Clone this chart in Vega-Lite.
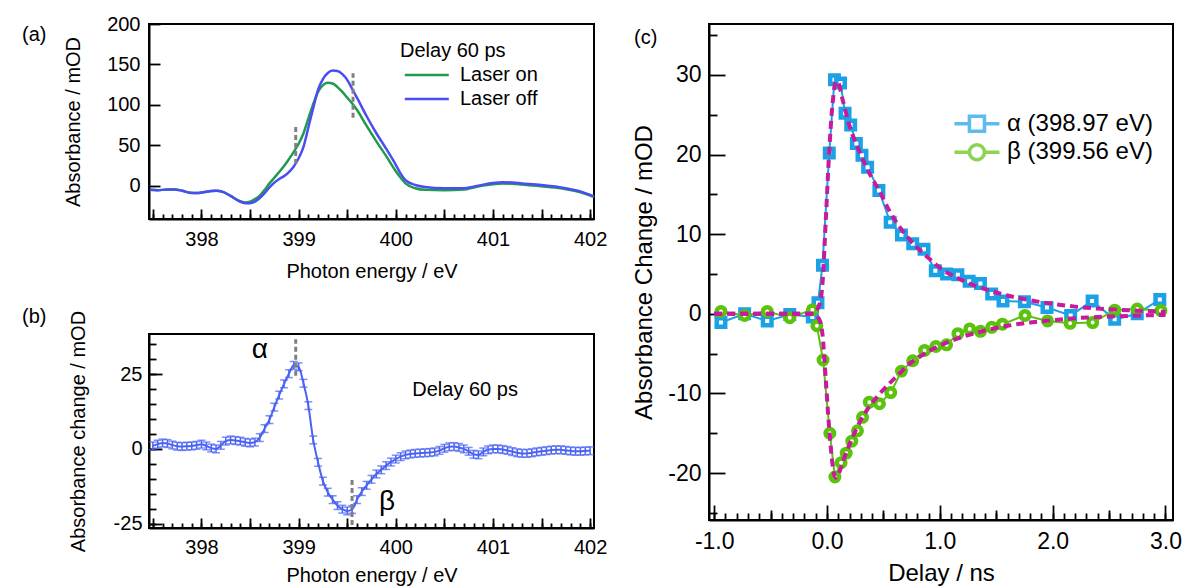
{
  "$schema": "https://vega.github.io/schema/vega-lite/v6.json",
  "autosize": {"type": "pad"},
  "padding": {"left": 21, "top": 13, "right": 0, "bottom": 0},
  "background": "white",
  "spacing": 560,
  "bounds": "flush",
  "resolve": {"scale": {"color": "independent", "stroke": "independent", "shape": "independent"}},
  "datasets": {
    "adata": [
      {"E":397.47,"A":-5,"s":"Laser on"},{"E":397.55,"A":-5.5,"s":"Laser on"},{"E":397.65,"A":-4.5,"s":"Laser on"},{"E":397.72,"A":-4.5,"s":"Laser on"},{"E":397.8,"A":-6,"s":"Laser on"},{"E":397.88,"A":-8.5,"s":"Laser on"},{"E":397.95,"A":-9,"s":"Laser on"},{"E":398.02,"A":-8,"s":"Laser on"},{"E":398.1,"A":-6.5,"s":"Laser on"},{"E":398.15,"A":-6,"s":"Laser on"},{"E":398.22,"A":-7.5,"s":"Laser on"},{"E":398.3,"A":-12.5,"s":"Laser on"},
      {"E":398.38,"A":-18,"s":"Laser on"},{"E":398.45,"A":-20.5,"s":"Laser on"},{"E":398.5,"A":-19.5,"s":"Laser on"},{"E":398.55,"A":-16.5,"s":"Laser on"},{"E":398.6,"A":-12,"s":"Laser on"},{"E":398.65,"A":-5,"s":"Laser on"},{"E":398.7,"A":3,"s":"Laser on"},{"E":398.75,"A":10,"s":"Laser on"},{"E":398.8,"A":17,"s":"Laser on"},{"E":398.85,"A":24.5,"s":"Laser on"},{"E":398.9,"A":33,"s":"Laser on"},{"E":398.95,"A":42,"s":"Laser on"},{"E":399.0,"A":52,"s":"Laser on"},{"E":399.05,"A":65,"s":"Laser on"},{"E":399.1,"A":83,"s":"Laser on"},{"E":399.15,"A":101,"s":"Laser on"},{"E":399.2,"A":116,"s":"Laser on"},{"E":399.25,"A":124.5,"s":"Laser on"},{"E":399.3,"A":127.5,"s":"Laser on"},{"E":399.35,"A":126.5,"s":"Laser on"},{"E":399.4,"A":122,"s":"Laser on"},{"E":399.45,"A":116,"s":"Laser on"},{"E":399.5,"A":109,"s":"Laser on"},{"E":399.55,"A":102,"s":"Laser on"},{"E":399.6,"A":94,"s":"Laser on"},{"E":399.7,"A":74,"s":"Laser on"},{"E":399.8,"A":55,"s":"Laser on"},{"E":399.9,"A":37,"s":"Laser on"},{"E":400.0,"A":18,"s":"Laser on"},{"E":400.05,"A":10,"s":"Laser on"},{"E":400.1,"A":3,"s":"Laser on"},{"E":400.2,"A":-3,"s":"Laser on"},{"E":400.3,"A":-5,"s":"Laser on"},{"E":400.5,"A":-5.5,"s":"Laser on"},{"E":400.7,"A":-4.5,"s":"Laser on"},{"E":400.8,"A":-2,"s":"Laser on"},{"E":400.9,"A":0.5,"s":"Laser on"},{"E":401.0,"A":2,"s":"Laser on"},{"E":401.1,"A":3,"s":"Laser on"},{"E":401.2,"A":2.5,"s":"Laser on"},{"E":401.3,"A":1.5,"s":"Laser on"},{"E":401.5,"A":-0.5,"s":"Laser on"},{"E":401.7,"A":-3,"s":"Laser on"},{"E":401.85,"A":-6.5,"s":"Laser on"},{"E":401.95,"A":-10,"s":"Laser on"},{"E":402.04,"A":-14,"s":"Laser on"},
      {"E":397.47,"A":-5,"s":"Laser off"},{"E":397.55,"A":-5.5,"s":"Laser off"},{"E":397.65,"A":-4.5,"s":"Laser off"},{"E":397.72,"A":-4.5,"s":"Laser off"},{"E":397.8,"A":-6,"s":"Laser off"},{"E":397.88,"A":-8.5,"s":"Laser off"},{"E":397.95,"A":-9,"s":"Laser off"},{"E":398.02,"A":-8,"s":"Laser off"},{"E":398.1,"A":-6.5,"s":"Laser off"},{"E":398.15,"A":-6,"s":"Laser off"},{"E":398.22,"A":-7.5,"s":"Laser off"},{"E":398.3,"A":-12.5,"s":"Laser off"},
      {"E":398.38,"A":-18.5,"s":"Laser off"},{"E":398.45,"A":-21.5,"s":"Laser off"},{"E":398.5,"A":-21.5,"s":"Laser off"},{"E":398.55,"A":-19.5,"s":"Laser off"},{"E":398.6,"A":-15,"s":"Laser off"},{"E":398.65,"A":-9,"s":"Laser off"},{"E":398.7,"A":-2,"s":"Laser off"},{"E":398.75,"A":4,"s":"Laser off"},{"E":398.8,"A":8.5,"s":"Laser off"},{"E":398.85,"A":12,"s":"Laser off"},{"E":398.9,"A":17,"s":"Laser off"},{"E":398.95,"A":24,"s":"Laser off"},{"E":399.0,"A":34,"s":"Laser off"},{"E":399.05,"A":48,"s":"Laser off"},{"E":399.1,"A":72,"s":"Laser off"},{"E":399.15,"A":96,"s":"Laser off"},{"E":399.2,"A":119,"s":"Laser off"},{"E":399.25,"A":132,"s":"Laser off"},{"E":399.3,"A":139.5,"s":"Laser off"},{"E":399.35,"A":142.5,"s":"Laser off"},{"E":399.4,"A":142,"s":"Laser off"},{"E":399.45,"A":138,"s":"Laser off"},{"E":399.5,"A":131,"s":"Laser off"},{"E":399.55,"A":120,"s":"Laser off"},{"E":399.6,"A":109,"s":"Laser off"},{"E":399.7,"A":86,"s":"Laser off"},{"E":399.8,"A":65,"s":"Laser off"},{"E":399.9,"A":46,"s":"Laser off"},{"E":400.0,"A":26,"s":"Laser off"},{"E":400.05,"A":15,"s":"Laser off"},{"E":400.1,"A":7,"s":"Laser off"},{"E":400.2,"A":1,"s":"Laser off"},{"E":400.3,"A":-1.5,"s":"Laser off"},{"E":400.5,"A":-3,"s":"Laser off"},{"E":400.7,"A":-3,"s":"Laser off"},{"E":400.8,"A":-1,"s":"Laser off"},{"E":400.9,"A":1.5,"s":"Laser off"},{"E":401.0,"A":3.5,"s":"Laser off"},{"E":401.1,"A":4.5,"s":"Laser off"},{"E":401.2,"A":4,"s":"Laser off"},{"E":401.3,"A":3,"s":"Laser off"},{"E":401.5,"A":1,"s":"Laser off"},{"E":401.7,"A":-2,"s":"Laser off"},{"E":401.85,"A":-5.5,"s":"Laser off"},{"E":401.95,"A":-9,"s":"Laser off"},{"E":402.04,"A":-13,"s":"Laser off"}
    ],
    "bdata": [
      {"E":397.5,"d":1.0,"err":1.3},{"E":397.55,"d":1.6,"err":1.3},{"E":397.6,"d":2.0,"err":1.3},{"E":397.65,"d":1.8,"err":1.3},{"E":397.7,"d":1.3,"err":1.3},{"E":397.75,"d":0.9,"err":1.3},{"E":397.8,"d":0.8,"err":1.3},{"E":397.85,"d":0.9,"err":1.3},{"E":397.9,"d":1.0,"err":1.3},{"E":397.95,"d":1.2,"err":1.3},{"E":398.0,"d":1.6,"err":1.3},{"E":398.05,"d":1.0,"err":1.3},{"E":398.1,"d":0.3,"err":1.3},{"E":398.15,"d":0.0,"err":1.3},{"E":398.2,"d":1.2,"err":1.3},{"E":398.25,"d":2.6,"err":1.3},{"E":398.3,"d":3.0,"err":1.3},{"E":398.35,"d":2.8,"err":1.3},{"E":398.4,"d":2.6,"err":1.3},{"E":398.45,"d":2.2,"err":1.3},{"E":398.5,"d":2.0,"err":1.3},{"E":398.55,"d":2.3,"err":1.3},{"E":398.6,"d":3.8,"err":1.3},{"E":398.65,"d":6.8,"err":1.3},{"E":398.7,"d":9.8,"err":1.3},{"E":398.75,"d":14.0,"err":1.3},{"E":398.8,"d":18.0,"err":1.3},{"E":398.85,"d":21.8,"err":1.3},{"E":398.9,"d":25.2,"err":1.3},{"E":398.95,"d":28.0,"err":1.3},{"E":399.0,"d":27.5,"err":1.3},{"E":399.05,"d":22.0,"err":1.3},{"E":399.1,"d":14.5,"err":1.3},{"E":399.15,"d":3.0,"err":1.3},{"E":399.2,"d":-4.5,"err":1.3},{"E":399.25,"d":-10.8,"err":1.3},{"E":399.3,"d":-14.5,"err":1.3},{"E":399.35,"d":-17.0,"err":1.3},{"E":399.4,"d":-19.0,"err":1.3},{"E":399.45,"d":-20.2,"err":1.3},{"E":399.5,"d":-20.8,"err":1.3},{"E":399.55,"d":-20.3,"err":1.3},{"E":399.6,"d":-17.0,"err":1.3},{"E":399.65,"d":-14.3,"err":1.3},{"E":399.7,"d":-12.2,"err":1.3},{"E":399.75,"d":-10.2,"err":1.3},{"E":399.8,"d":-8.4,"err":1.3},{"E":399.85,"d":-7.0,"err":1.3},{"E":399.9,"d":-5.6,"err":1.3},{"E":399.95,"d":-4.4,"err":1.3},{"E":400.0,"d":-3.4,"err":1.3},{"E":400.05,"d":-2.6,"err":1.3},{"E":400.1,"d":-2.0,"err":1.3},{"E":400.15,"d":-1.7,"err":1.3},{"E":400.2,"d":-1.5,"err":1.3},{"E":400.25,"d":-1.4,"err":1.3},{"E":400.3,"d":-1.3,"err":1.3},{"E":400.35,"d":-1.2,"err":1.3},{"E":400.4,"d":-1.0,"err":1.3},{"E":400.45,"d":-0.5,"err":1.3},{"E":400.5,"d":0.2,"err":1.3},{"E":400.55,"d":0.7,"err":1.3},{"E":400.6,"d":0.8,"err":1.3},{"E":400.65,"d":0.5,"err":1.3},{"E":400.7,"d":0.0,"err":1.3},{"E":400.75,"d":-0.8,"err":1.3},{"E":400.8,"d":-1.8,"err":1.3},{"E":400.85,"d":-2.0,"err":1.3},{"E":400.9,"d":-1.0,"err":1.3},{"E":400.95,"d":-0.3,"err":1.3},{"E":401.0,"d":0.0,"err":1.3},{"E":401.05,"d":0.0,"err":1.3},{"E":401.1,"d":-0.2,"err":1.3},{"E":401.15,"d":-0.5,"err":1.3},{"E":401.2,"d":-0.9,"err":1.3},{"E":401.25,"d":-1.3,"err":1.3},{"E":401.3,"d":-1.5,"err":1.3},{"E":401.35,"d":-1.5,"err":1.3},{"E":401.4,"d":-1.3,"err":1.3},{"E":401.45,"d":-1.0,"err":1.3},{"E":401.5,"d":-0.8,"err":1.3},{"E":401.55,"d":-0.6,"err":1.3},{"E":401.6,"d":-0.4,"err":1.3},{"E":401.65,"d":-0.3,"err":1.3},{"E":401.7,"d":-0.3,"err":1.3},{"E":401.75,"d":-0.5,"err":1.3},{"E":401.8,"d":-0.7,"err":1.3},{"E":401.85,"d":-0.8,"err":1.3},{"E":401.9,"d":-0.8,"err":1.3},{"E":401.95,"d":-0.7,"err":1.3},{"E":402.0,"d":-0.6,"err":1.3}
    ],
    "cdata": [
      {"t":-0.94,"v":-1.1,"series":"α (398.97 eV)"},{"t":-0.73,"v":0,"series":"α (398.97 eV)"},{"t":-0.53,"v":-0.9,"series":"α (398.97 eV)"},{"t":-0.33,"v":-0.1,"series":"α (398.97 eV)"},{"t":-0.13,"v":-0.4,"series":"α (398.97 eV)"},{"t":-0.08,"v":1.4,"series":"α (398.97 eV)"},{"t":-0.04,"v":6.1,"series":"α (398.97 eV)"},{"t":0.02,"v":20.2,"series":"α (398.97 eV)"},{"t":0.066,"v":29.4,"series":"α (398.97 eV)"},{"t":0.12,"v":29.0,"series":"α (398.97 eV)"},{"t":0.16,"v":25.2,"series":"α (398.97 eV)"},{"t":0.21,"v":23.7,"series":"α (398.97 eV)"},{"t":0.26,"v":21.4,"series":"α (398.97 eV)"},{"t":0.31,"v":19.9,"series":"α (398.97 eV)"},{"t":0.36,"v":18.4,"series":"α (398.97 eV)"},{"t":0.46,"v":15.5,"series":"α (398.97 eV)"},{"t":0.56,"v":11.5,"series":"α (398.97 eV)"},{"t":0.66,"v":9.9,"series":"α (398.97 eV)"},{"t":0.76,"v":8.8,"series":"α (398.97 eV)"},{"t":0.86,"v":8.1,"series":"α (398.97 eV)"},{"t":0.96,"v":5.4,"series":"α (398.97 eV)"},{"t":1.06,"v":5.0,"series":"α (398.97 eV)"},{"t":1.16,"v":4.9,"series":"α (398.97 eV)"},{"t":1.26,"v":4.1,"series":"α (398.97 eV)"},{"t":1.36,"v":3.8,"series":"α (398.97 eV)"},{"t":1.46,"v":2.5,"series":"α (398.97 eV)"},{"t":1.56,"v":1.6,"series":"α (398.97 eV)"},{"t":1.75,"v":1.5,"series":"α (398.97 eV)"},{"t":1.95,"v":0.8,"series":"α (398.97 eV)"},{"t":2.16,"v":-0.2,"series":"α (398.97 eV)"},{"t":2.35,"v":1.6,"series":"α (398.97 eV)"},{"t":2.55,"v":-0.7,"series":"α (398.97 eV)"},{"t":2.75,"v":0.0,"series":"α (398.97 eV)"},{"t":2.95,"v":1.8,"series":"α (398.97 eV)"},
      {"t":-0.94,"v":0.3,"series":"β (399.56 eV)"},{"t":-0.73,"v":-0.2,"series":"β (399.56 eV)"},{"t":-0.53,"v":0.3,"series":"β (399.56 eV)"},{"t":-0.33,"v":-0.5,"series":"β (399.56 eV)"},{"t":-0.13,"v":0.5,"series":"β (399.56 eV)"},{"t":-0.09,"v":-1.5,"series":"β (399.56 eV)"},{"t":-0.035,"v":-5.8,"series":"β (399.56 eV)"},{"t":0.025,"v":-15.0,"series":"β (399.56 eV)"},{"t":0.07,"v":-20.5,"series":"β (399.56 eV)"},{"t":0.125,"v":-18.7,"series":"β (399.56 eV)"},{"t":0.17,"v":-17.5,"series":"β (399.56 eV)"},{"t":0.22,"v":-16.0,"series":"β (399.56 eV)"},{"t":0.27,"v":-14.7,"series":"β (399.56 eV)"},{"t":0.315,"v":-13.0,"series":"β (399.56 eV)"},{"t":0.375,"v":-11.1,"series":"β (399.56 eV)"},{"t":0.465,"v":-11.3,"series":"β (399.56 eV)"},{"t":0.565,"v":-9.9,"series":"β (399.56 eV)"},{"t":0.66,"v":-7.2,"series":"β (399.56 eV)"},{"t":0.76,"v":-5.9,"series":"β (399.56 eV)"},{"t":0.865,"v":-4.6,"series":"β (399.56 eV)"},{"t":0.965,"v":-4.1,"series":"β (399.56 eV)"},{"t":1.06,"v":-3.9,"series":"β (399.56 eV)"},{"t":1.16,"v":-2.5,"series":"β (399.56 eV)"},{"t":1.265,"v":-1.9,"series":"β (399.56 eV)"},{"t":1.36,"v":-2.2,"series":"β (399.56 eV)"},{"t":1.46,"v":-1.7,"series":"β (399.56 eV)"},{"t":1.555,"v":-1.3,"series":"β (399.56 eV)"},{"t":1.755,"v":-0.2,"series":"β (399.56 eV)"},{"t":1.955,"v":-0.9,"series":"β (399.56 eV)"},{"t":2.155,"v":-1.2,"series":"β (399.56 eV)"},{"t":2.355,"v":-1.1,"series":"β (399.56 eV)"},{"t":2.55,"v":0.45,"series":"β (399.56 eV)"},{"t":2.75,"v":0.6,"series":"β (399.56 eV)"},{"t":2.96,"v":0.4,"series":"β (399.56 eV)"}
    ],
    "cfit": [
      {"t":-1.0,"v":0,"series":"a"},{"t":-0.5,"v":0,"series":"a"},{"t":-0.15,"v":0,"series":"a"},{"t":-0.1,"v":0.3,"series":"a"},{"t":-0.06,"v":1.5,"series":"a"},{"t":-0.04,"v":3.8,"series":"a"},{"t":-0.01,"v":12,"series":"a"},{"t":0.02,"v":20.5,"series":"a"},{"t":0.05,"v":26.5,"series":"a"},{"t":0.08,"v":29.2,"series":"a"},{"t":0.1,"v":29,"series":"a"},{"t":0.14,"v":26.8,"series":"a"},{"t":0.2,"v":23.6,"series":"a"},{"t":0.29,"v":20.3,"series":"a"},{"t":0.4,"v":17,"series":"a"},{"t":0.47,"v":15.3,"series":"a"},{"t":0.55,"v":13,"series":"a"},{"t":0.65,"v":10.8,"series":"a"},{"t":0.8,"v":8.3,"series":"a"},{"t":0.9,"v":7,"series":"a"},{"t":1.0,"v":5.8,"series":"a"},{"t":1.2,"v":4.2,"series":"a"},{"t":1.4,"v":3.1,"series":"a"},{"t":1.6,"v":2.3,"series":"a"},{"t":1.8,"v":1.7,"series":"a"},{"t":2.0,"v":1.25,"series":"a"},{"t":2.2,"v":0.9,"series":"a"},{"t":2.4,"v":0.65,"series":"a"},{"t":2.6,"v":0.5,"series":"a"},{"t":2.8,"v":0.35,"series":"a"},{"t":3.0,"v":0.25,"series":"a"},
      {"t":-1.0,"v":0,"series":"b"},{"t":-0.5,"v":0,"series":"b"},{"t":-0.15,"v":0,"series":"b"},{"t":-0.1,"v":-0.2,"series":"b"},{"t":-0.06,"v":-1,"series":"b"},{"t":-0.04,"v":-2.6,"series":"b"},{"t":-0.01,"v":-8.5,"series":"b"},{"t":0.02,"v":-14.5,"series":"b"},{"t":0.05,"v":-19,"series":"b"},{"t":0.075,"v":-20.6,"series":"b"},{"t":0.1,"v":-20.2,"series":"b"},{"t":0.14,"v":-18.6,"series":"b"},{"t":0.2,"v":-16.4,"series":"b"},{"t":0.29,"v":-13.6,"series":"b"},{"t":0.35,"v":-12.2,"series":"b"},{"t":0.47,"v":-10,"series":"b"},{"t":0.55,"v":-8.8,"series":"b"},{"t":0.65,"v":-7.4,"series":"b"},{"t":0.71,"v":-6.5,"series":"b"},{"t":0.8,"v":-5.6,"series":"b"},{"t":0.9,"v":-4.7,"series":"b"},{"t":1.0,"v":-4.0,"series":"b"},{"t":1.2,"v":-2.9,"series":"b"},{"t":1.4,"v":-2.1,"series":"b"},{"t":1.6,"v":-1.5,"series":"b"},{"t":1.8,"v":-1.1,"series":"b"},{"t":2.0,"v":-0.8,"series":"b"},{"t":2.2,"v":-0.55,"series":"b"},{"t":2.4,"v":-0.4,"series":"b"},{"t":2.6,"v":-0.3,"series":"b"},{"t":2.8,"v":-0.2,"series":"b"},{"t":3.0,"v":-0.15,"series":"b"}
    ]
  },
  "hconcat": [
    {
      "spacing": 115,
      "bounds": "flush",
      "vconcat": [
        {
          "width": 445,
          "height": 195,
          "title": {"text": "(a)", "frame": "group", "dx": -127, "dy": 35},
          "layer": [
            {
              "data": {"name": "adata"},
              "mark": {"type": "line", "interpolate": "monotone", "strokeWidth": 2.5},
              "encoding": {
                "x": {"field": "E", "type": "quantitative", "scale": {"domain": [397.46, 402.04], "nice": false, "zero": false},
                  "axis": {"orient": "bottom", "values": [397.5,398,398.5,399,399.5,400,400.5,401,401.5,402], "labelExpr": "datum.value % 1 === 0 ? format(datum.value, 'd') : ''", "tickSize": -10, "labelPadding": 20, "labelFontSize": 20, "title": "Photon energy / eV", "titleFontSize": 20, "titlePadding": 12}},
                "y": {"field": "A", "type": "quantitative", "scale": {"domain": [-41, 200], "nice": false, "zero": false},
                  "axis": {"orient": "left", "values": [0,50,100,150,200], "tickSize": -11, "labelPadding": 20, "labelFontSize": 20, "title": "Absorbance / mOD", "titleFontSize": 20, "titlePadding": 23}},
                "color": {"field": "s", "type": "nominal", "scale": {"domain": ["Laser on", "Laser off"], "range": ["#1f9b4e", "#4a4cf4"]},
                  "legend": {"title": "Delay 60 ps", "orient": "none", "legendX": 251, "legendY": 16.5, "offset": 0, "symbolType": "M-0.7,0H3.3", "symbolSize": 484, "symbolStrokeWidth": 2.5, "labelOffset": 35, "labelFontSize": 20, "titleFontSize": 20, "titlePadding": 2, "rowPadding": 1}}
              }
            },
            {
              "data": {"values": [{"E": 398.97, "lo": 27, "hi": 75}, {"E": 399.56, "lo": 84, "hi": 139}]},
              "mark": {"type": "rule", "color": "#808080", "strokeWidth": 3, "strokeDash": [5, 3]},
              "encoding": {
                "x": {"field": "E", "type": "quantitative", "scale": {"domain": [397.46, 402.04], "nice": false, "zero": false},
                  "axis": {"orient": "bottom", "values": [397.5,397.6,397.7,397.8,397.9,398,398.1,398.2,398.3,398.4,398.5,398.6,398.7,398.8,398.9,399,399.1,399.2,399.3,399.4,399.5,399.6,399.7,399.8,399.9,400,400.1,400.2,400.3,400.4,400.5,400.6,400.7,400.8,400.9,401,401.1,401.2,401.3,401.4,401.5,401.6,401.7,401.8,401.9,402], "tickSize": -5, "labels": false, "domain": false, "title": null}},
                "y": {"field": "lo", "type": "quantitative", "scale": {"domain": [-41, 200], "nice": false, "zero": false}, "axis": null},
                "y2": {"field": "hi"}
              }
            }
          ],
          "resolve": {"axis": {"x": "independent", "y": "independent"}}
        },
        {
          "width": 445,
          "height": 194,
          "title": {"text": "(b)", "frame": "group", "dx": -127, "dy": 21},
          "layer": [
            {
              "data": {"name": "bdata"},
              "mark": {"type": "line", "interpolate": "monotone", "strokeWidth": 2, "color": "#4a63f2"},
              "encoding": {
                "x": {"field": "E", "type": "quantitative", "scale": {"domain": [397.46, 402.04], "nice": false, "zero": false},
                  "axis": {"orient": "bottom", "values": [397.5,398,398.5,399,399.5,400,400.5,401,401.5,402], "labelExpr": "datum.value % 1 === 0 ? format(datum.value, 'd') : ''", "tickSize": -10, "labelPadding": 19, "labelFontSize": 20, "title": "Photon energy / eV", "titleFontSize": 20, "titlePadding": 8}},
                "y": {"field": "d", "type": "quantitative", "scale": {"domain": [-26.5, 38.5], "nice": false, "zero": false},
                  "axis": {"orient": "left", "values": [-25, 0, 25], "labelExpr": "replace(datum.label, '\u2212', '-')", "tickSize": -13, "labelPadding": 20, "labelFontSize": 20, "title": "Absorbance change / mOD", "titleFontSize": 20, "titlePadding": 25}}
              }
            },
            {
              "data": {"name": "bdata"},
              "mark": {"type": "errorbar", "ticks": {"size": 8}, "thickness": 1.5, "color": "#4a63f2"},
              "encoding": {
                "x": {"field": "E", "type": "quantitative", "scale": {"domain": [397.46, 402.04], "nice": false, "zero": false}, "axis": null},
                "y": {"field": "d", "type": "quantitative", "scale": {"domain": [-26.5, 38.5], "nice": false, "zero": false}, "axis": null},
                "yError": {"field": "err"}
              }
            },
            {
              "data": {"values": [{"E": 398.97, "lo": 24.5, "hi": 36.7}, {"E": 399.55, "lo": -25.5, "hi": -10.3}]},
              "mark": {"type": "rule", "color": "#808080", "strokeWidth": 3, "strokeDash": [5, 3]},
              "encoding": {
                "x": {"field": "E", "type": "quantitative", "scale": {"domain": [397.46, 402.04], "nice": false, "zero": false},
                  "axis": {"orient": "bottom", "values": [397.5,397.6,397.7,397.8,397.9,398,398.1,398.2,398.3,398.4,398.5,398.6,398.7,398.8,398.9,399,399.1,399.2,399.3,399.4,399.5,399.6,399.7,399.8,399.9,400,400.1,400.2,400.3,400.4,400.5,400.6,400.7,400.8,400.9,401,401.1,401.2,401.3,401.4,401.5,401.6,401.7,401.8,401.9,402], "tickSize": -5, "labels": false, "domain": false, "title": null}},
                "y": {"field": "lo", "type": "quantitative", "scale": {"domain": [-26.5, 38.5], "nice": false, "zero": false},
                  "axis": {"orient": "left", "values": [-25,-20,-15,-10,-5,0,5,10,15,20,25,30,35], "tickSize": -7, "labels": false, "domain": false, "title": null}},
                "y2": {"field": "hi"}
              }
            },
            {
              "data": {"values": [{"E": 398.6, "v": 33, "label": "α"}, {"E": 399.91, "v": -17.7, "label": "β"}]},
              "mark": {"type": "text", "fontSize": 28, "font": "Liberation Sans", "color": "#000000", "align": "center", "baseline": "middle"},
              "encoding": {
                "x": {"field": "E", "type": "quantitative", "scale": {"domain": [397.46, 402.04], "nice": false, "zero": false}, "axis": null},
                "y": {"field": "v", "type": "quantitative", "scale": {"domain": [-26.5, 38.5], "nice": false, "zero": false}, "axis": null},
                "text": {"field": "label"}
              }
            },
            {
              "data": {"values": [{"E": 400.17, "v": 19.7, "label": "Delay 60 ps"}]},
              "mark": {"type": "text", "fontSize": 20, "font": "Liberation Sans", "color": "#000000", "align": "left", "baseline": "middle"},
              "encoding": {
                "x": {"field": "E", "type": "quantitative", "scale": {"domain": [397.46, 402.04], "nice": false, "zero": false}, "axis": null},
                "y": {"field": "v", "type": "quantitative", "scale": {"domain": [-26.5, 38.5], "nice": false, "zero": false}, "axis": null},
                "text": {"field": "label"}
              }
            }
          ],
          "resolve": {"axis": {"x": "independent", "y": "independent"}}
        }
      ]
    },
    {
      "width": 464,
      "height": 496,
      "title": {"text": "(c)", "frame": "group", "dx": -75, "dy": 28},
      "layer": [
        {
          "data": {"name": "cdata"},
          "mark": {"type": "line", "strokeWidth": 2},
          "encoding": {
            "x": {"field": "t", "type": "quantitative", "scale": {"domain": [-1.046, 3.067], "nice": false, "zero": false},
              "axis": {"orient": "bottom", "values": [-1, 0, 1, 2, 3], "labelExpr": "replace(format(datum.value, '.1f'), '\u2212', '-')", "tickSize": -15, "labelPadding": 25, "labelFontSize": 23, "title": "Delay / ns", "titleFontSize": 24, "titlePadding": 8}},
            "y": {"field": "v", "type": "quantitative", "scale": {"domain": [-25.9, 36.4], "nice": false, "zero": false},
              "axis": {"orient": "left", "values": [-20, -10, 0, 10, 20, 30], "labelExpr": "replace(datum.label, '\u2212', '-')", "tickSize": -16, "labelPadding": 24, "labelFontSize": 23, "title": "Absorbance Change / mOD", "titleFontSize": 24, "titlePadding": 11}},
            "color": {"field": "series", "type": "nominal", "scale": {"domain": ["α (398.97 eV)", "β (399.56 eV)"], "range": ["#1aa1e6", "#5bc20d"]}, "legend": null}
          }
        },
        {
          "data": {"name": "cdata"},
          "mark": {"type": "point", "filled": true, "fill": "white", "fillOpacity": 1, "strokeWidth": 4.5, "size": 72, "opacity": 1},
          "encoding": {
            "x": {"field": "t", "type": "quantitative", "scale": {"domain": [-1.046, 3.067], "nice": false, "zero": false},
              "axis": {"orient": "bottom", "values": [-0.5, 0.5, 1.5, 2.5], "tickSize": -10, "labels": false, "domain": false, "title": null}},
            "y": {"field": "v", "type": "quantitative", "scale": {"domain": [-25.9, 36.4], "nice": false, "zero": false},
              "axis": {"orient": "left", "values": [-25, -15, -5, 5, 15, 25, 35], "tickSize": -8, "labels": false, "domain": false, "title": null}},
            "stroke": {"field": "series", "type": "nominal", "scale": {"domain": ["α (398.97 eV)", "β (399.56 eV)"], "range": ["#1aa1e6", "#5bc20d"]}, "legend": null},
            "shape": {"field": "series", "type": "nominal", "scale": {"domain": ["α (398.97 eV)", "β (399.56 eV)"], "range": ["square", "circle"]}, "legend": null}
          }
        },
        {
          "data": {"name": "cfit"},
          "mark": {"type": "line", "interpolate": "monotone", "strokeWidth": 4, "color": "#c81a9c", "strokeDash": [8, 5]},
          "encoding": {
            "x": {"field": "t", "type": "quantitative", "scale": {"domain": [-1.046, 3.067], "nice": false, "zero": false},
              "axis": {"orient": "bottom", "values": [-1,-0.9,-0.8,-0.7,-0.6,-0.5,-0.4,-0.3,-0.2,-0.1,0,0.1,0.2,0.3,0.4,0.5,0.6,0.7,0.8,0.9,1,1.1,1.2,1.3,1.4,1.5,1.6,1.7,1.8,1.9,2,2.1,2.2,2.3,2.4,2.5,2.6,2.7,2.8,2.9,3], "tickSize": -7, "labels": false, "domain": false, "title": null}},
            "y": {"field": "v", "type": "quantitative", "scale": {"domain": [-25.9, 36.4], "nice": false, "zero": false}, "axis": null},
            "detail": {"field": "series"}
          }
        },
        {
          "data": {"name": "cdata"},
          "transform": [{"filter": "datum.t > 100"}],
          "mark": {"type": "point", "filled": true, "fill": "white", "strokeWidth": 3.5},
          "encoding": {
            "x": {"field": "t", "type": "quantitative", "scale": {"domain": [-1.046, 3.067], "nice": false, "zero": false}, "axis": null},
            "y": {"field": "v", "type": "quantitative", "scale": {"domain": [-25.9, 36.4], "nice": false, "zero": false}, "axis": null},
            "stroke": {"field": "series", "type": "nominal", "scale": {"domain": ["α (398.97 eV)", "β (399.56 eV)"], "range": ["#1aa1e6", "#5bc20d"]},
              "legend": {"title": null, "orient": "none", "legendX": 250, "legendY": 86.75, "offset": 0, "symbolSize": 506, "symbolStrokeWidth": 3.5, "symbolFillColor": "white", "labelOffset": 22, "labelFontSize": 24, "rowPadding": -1.5}},
            "shape": {"field": "series", "type": "nominal", "scale": {"domain": ["α (398.97 eV)", "β (399.56 eV)"], "range": ["M-1.56,0H-0.23M1.11,0H2.44M-0.23,-0.67H1.11V0.67H-0.23Z", "M-1.56,0H-0.23M1.11,0H2.44M1.11,0A0.67,0.67 0 1,1 -0.23,0A0.67,0.67 0 1,1 1.11,0Z"]},
              "legend": {"title": null, "orient": "none", "legendX": 250, "legendY": 86.75, "offset": 0, "symbolSize": 506, "symbolStrokeWidth": 3.5, "symbolFillColor": "white", "labelOffset": 22, "labelFontSize": 24, "rowPadding": -1.5}}
          }
        }
      ],
      "resolve": {"axis": {"x": "independent", "y": "independent"}, "scale": {"stroke": "independent", "shape": "independent"}}
    }
  ],
  "config": {
    "font": "Liberation Sans",
    "view": {"stroke": "#000000", "strokeWidth": 2},
    "axis": {"domainColor": "#000000", "domainWidth": 2, "tickColor": "#000000", "tickWidth": 1.8, "labelColor": "#000000", "titleColor": "#000000", "labelFont": "Liberation Sans", "titleFont": "Liberation Sans", "titleFontWeight": "normal", "grid": false, "labelFlush": false, "labelOverlap": false},
    "legend": {"labelFont": "Liberation Sans", "titleFont": "Liberation Sans", "labelColor": "#000000", "titleColor": "#000000", "titleFontWeight": "normal", "padding": 0, "offset": 0},
    "title": {"font": "Liberation Sans", "fontSize": 20, "fontWeight": "normal", "color": "#000000", "anchor": "start", "offset": 0, "baseline": "middle"}
  }
}
